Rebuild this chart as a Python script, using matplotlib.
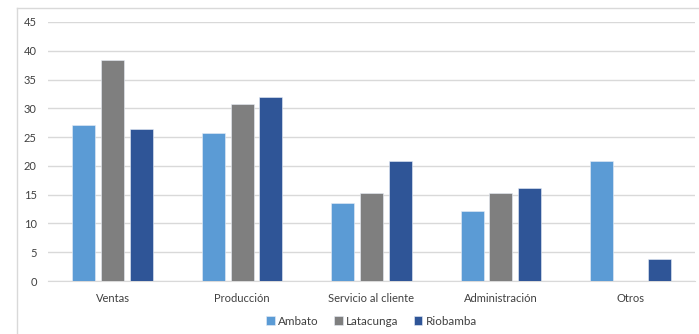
import numpy as np
import matplotlib.pyplot as plt
from matplotlib.lines import Line2D

categories = ["Ventas", "Producción", "Servicio al cliente", "Administración", "Otros"]
ambato = [27.1, 25.8, 13.5, 12.2, 20.9]
latacunga = [38.4, 30.7, 15.3, 15.3, 0]
riobamba = [26.4, 31.9, 20.9, 16.2, 3.9]
series_names = ["Ambato", "Latacunga", "Riobamba"]
colors = ["#5B9BD5", "#7F7F7F", "#2F5597"]

plt.rcParams["font.family"] = ["Lato", "DejaVu Sans"]

W, H = 699, 334
fig = plt.figure(figsize=(W / 100, H / 100), dpi=100)
ax = fig.add_axes([48 / W, (H - 281) / H, (695 - 48) / W, (281 - 22) / H])

# outer chart border (left and top edges visible)
fig.add_artist(Line2D([17 / W, 17 / W], [0, (H - 8) / H], transform=fig.transFigure,
                      color="#D9D9D9", lw=1))
fig.add_artist(Line2D([17 / W, 1], [(H - 8) / H, (H - 8) / H], transform=fig.transFigure,
                      color="#D9D9D9", lw=1))

x = np.arange(len(categories))
width = 0.178
step = 0.222
for i, (vals, name, c) in enumerate(zip([ambato, latacunga, riobamba], series_names, colors)):
    ax.bar(x + (i - 1) * step, vals, width, color=c, label=name,
           edgecolor="#E8EEF7", linewidth=0.4, zorder=3)

ax.set_xlim(-0.5, len(categories) - 0.5)
ax.set_ylim(0, 45)
ax.set_yticks(range(0, 46, 5))
ax.set_xticks(x)
ax.set_xticklabels(categories)
ax.grid(axis="y", color="#D9D9D9", lw=1, zorder=0)
for s in ["top", "right", "left"]:
    ax.spines[s].set_visible(False)
ax.spines["bottom"].set_color("#D9D9D9")
ax.tick_params(axis="both", length=0, labelsize=8, labelcolor="#404040")
ax.tick_params(axis="x", pad=9)
ax.tick_params(axis="y", pad=8)

ax.legend(loc="center", bbox_to_anchor=(0.5, -0.155), ncol=3, frameon=False,
          fontsize=8.4, labelcolor="#404040", handlelength=0.75, handleheight=0.75,
          handletextpad=0.3, columnspacing=1.3)

fig.savefig("out.png", dpi=100, facecolor="white")
